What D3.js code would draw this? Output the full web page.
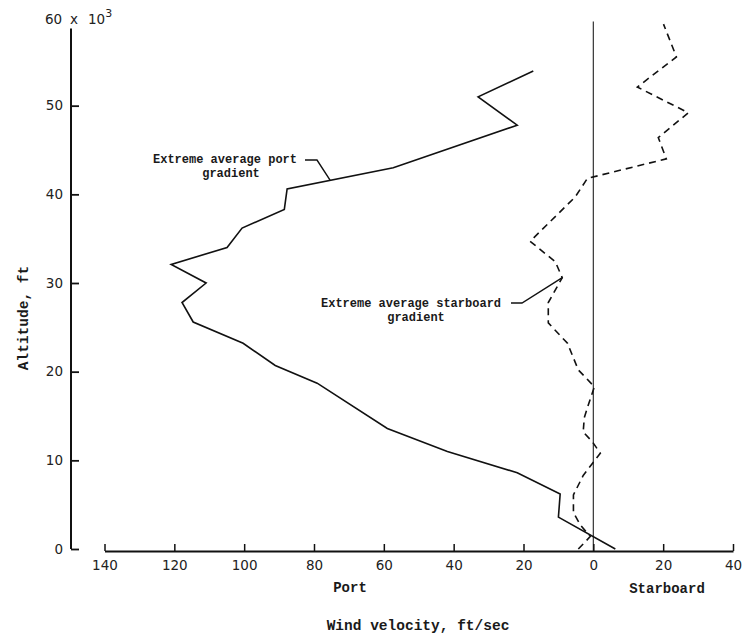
<!DOCTYPE html>
<html>
<head>
<meta charset="utf-8">
<script src="https://cdn.jsdelivr.net/npm/d3@7"></script>
<style>
  body { margin: 0; background: #fff; }
  .tick text { font-family: "DejaVu Sans", sans-serif; font-size: 13.5px; fill: #222; }
  .tw { font-family: "Liberation Mono", monospace; font-weight: bold; fill: #1a1a1a; }
</style>
</head>
<body>
<div id="chart"></div>
<script>
// wind velocity, ft/sec (port negative, starboard positive) vs altitude, thousands of ft
const portVel = [6.3, -10.0, -9.5, -21.8, -41.8, -59.0, -79.1, -91.1, -100.3, -114.6, -117.8, -110.9, -120.9, -104.9, -100.6, -88.5, -87.7, -57.3, -21.8, -33.0, -17.2]
const portAlt = [0, 3.6, 6.2, 8.6, 11.0, 13.6, 18.7, 20.7, 23.2, 25.6, 27.8, 30.0, 32.1, 34.0, 36.2, 38.3, 40.6, 43.0, 47.8, 51.0, 53.9]

const starVel = [-4.3, -0.9, -3.7, -5.7, -5.7, -2.9, 2.0, -0.3, -2.9, -2.6, -1.4, 0.3, -4.3, -7.4, -12.9, -12.9, -8.9, -10.9, -18.1, -5.2, -1.7, 20.9, 18.6, 27.2, 12.6, 23.8, 20.1]
const starAlt = [0, 1.4, 2.7, 4.1, 6.1, 8.3, 10.8, 12.1, 13.2, 14.8, 16.3, 18.3, 20.2, 23.2, 25.5, 27.8, 30.6, 32.4, 34.7, 39.7, 41.8, 44.0, 46.4, 49.2, 52.1, 55.5, 59.2]

const xTicks = [-140, -120, -100, -80, -60, -40, -20, 0, 20, 40]
const yTicks = [0, 10, 20, 30, 40, 50]

const w = 754
const h = 635

const xScale = d3.scaleLinear().domain([-140, 40]).range([104.5, 733])
const yScale = d3.scaleLinear().domain([0, 60]).range([549, 17])

const svg = d3.select('#chart').append('svg')
    .attr('width', w)
    .attr('height', h)
    .style('background', '#fff')

// zero reference line
svg.append('line')
    .attr('x1', xScale(0)).attr('x2', xScale(0))
    .attr('y1', yScale(59.5)).attr('y2', yScale(0) + 2)
    .attr('stroke', '#333')
    .attr('stroke-width', 1.2)

// x axis
const xAxis = d3.axisBottom(xScale)
    .tickValues(xTicks)
    .tickFormat(d => Math.abs(d))
    .tickSize(-7)
    .tickSizeOuter(0)
    .tickPadding(9)

const gx = svg.append('g')
    .attr('transform', 'translate(0,' + (yScale(0) + 2) + ')')
    .call(xAxis)
gx.select('.domain').attr('stroke', '#111').attr('stroke-width', 2)
gx.selectAll('.tick line').attr('stroke', '#111').attr('stroke-width', 1.5)

// y axis
const yAxis = d3.axisLeft(yScale)
    .tickValues(yTicks)
    .tickSize(-8)
    .tickPadding(8)

const gy = svg.append('g')
    .attr('transform', 'translate(71,0)')
    .call(yAxis)
gy.select('.domain').remove()
gy.selectAll('.tick line').attr('stroke', '#111').attr('stroke-width', 1.8)
gy.append('line')
    .attr('x1', 0).attr('x2', 0)
    .attr('y1', yScale(58.7)).attr('y2', yScale(0))
    .attr('stroke', '#111')
    .attr('stroke-width', 2)

// top label: 60 x 10^3
const topLbl = svg.append('text')
    .attr('y', yScale(60) + 7)
    .style('font-family', '"DejaVu Sans", sans-serif')
    .style('font-size', '13.5px')
    .attr('fill', '#222')
topLbl.append('tspan').attr('x', 45).text('60')
topLbl.append('tspan').attr('x', 70).text('x')
topLbl.append('tspan').attr('x', 88).text('10')
topLbl.append('tspan').attr('dy', -7).style('font-size', '11px').text('3')

// data lines
const line = d3.line()
    .x(d => xScale(d[0]))
    .y(d => yScale(d[1]))

const portData = portVel.map((v, i) => [v, portAlt[i]])
const starData = starVel.map((v, i) => [v, starAlt[i]])

svg.append('path')
    .datum(portData)
    .attr('d', line)
    .attr('fill', 'none')
    .attr('stroke', '#111')
    .attr('stroke-width', 1.6)
    .attr('stroke-linejoin', 'miter')

svg.append('path')
    .datum(starData)
    .attr('d', line)
    .attr('fill', 'none')
    .attr('stroke', '#111')
    .attr('stroke-width', 1.6)
    .attr('stroke-dasharray', '7,5')

// annotations
svg.append('text')
    .attr('class', 'tw')
    .attr('x', 153).attr('y', 163)
    .style('font-size', '12px')
    .text('Extreme average port')
svg.append('text')
    .attr('class', 'tw')
    .attr('x', 231).attr('y', 177)
    .attr('text-anchor', 'middle')
    .style('font-size', '12px')
    .text('gradient')
svg.append('path')
    .attr('d', 'M305,160 L317,160 L' + xScale(-75.4) + ',' + yScale(41.6))
    .attr('fill', 'none')
    .attr('stroke', '#111')
    .attr('stroke-width', 1.4)

svg.append('text')
    .attr('class', 'tw')
    .attr('x', 321).attr('y', 307)
    .style('font-size', '12px')
    .text('Extreme average starboard')
svg.append('text')
    .attr('class', 'tw')
    .attr('x', 416).attr('y', 321)
    .attr('text-anchor', 'middle')
    .style('font-size', '12px')
    .text('gradient')
svg.append('path')
    .attr('d', 'M511,303 L522,303 L' + xScale(-8.9) + ',' + yScale(30.6))
    .attr('fill', 'none')
    .attr('stroke', '#111')
    .attr('stroke-width', 1.4)

// axis titles
svg.append('text')
    .attr('class', 'tw')
    .attr('x', 350).attr('y', 592)
    .attr('text-anchor', 'middle')
    .style('font-size', '14px')
    .text('Port')
svg.append('text')
    .attr('class', 'tw')
    .attr('x', 667).attr('y', 593)
    .attr('text-anchor', 'middle')
    .style('font-size', '14px')
    .text('Starboard')
svg.append('text')
    .attr('class', 'tw')
    .attr('x', 418).attr('y', 630)
    .attr('text-anchor', 'middle')
    .style('font-size', '14.5px')
    .text('Wind velocity, ft/sec')
svg.append('text')
    .attr('class', 'tw')
    .attr('transform', 'translate(28,318) rotate(-90)')
    .attr('text-anchor', 'middle')
    .style('font-size', '14.5px')
    .text('Altitude, ft')
</script>
</body>
</html>
